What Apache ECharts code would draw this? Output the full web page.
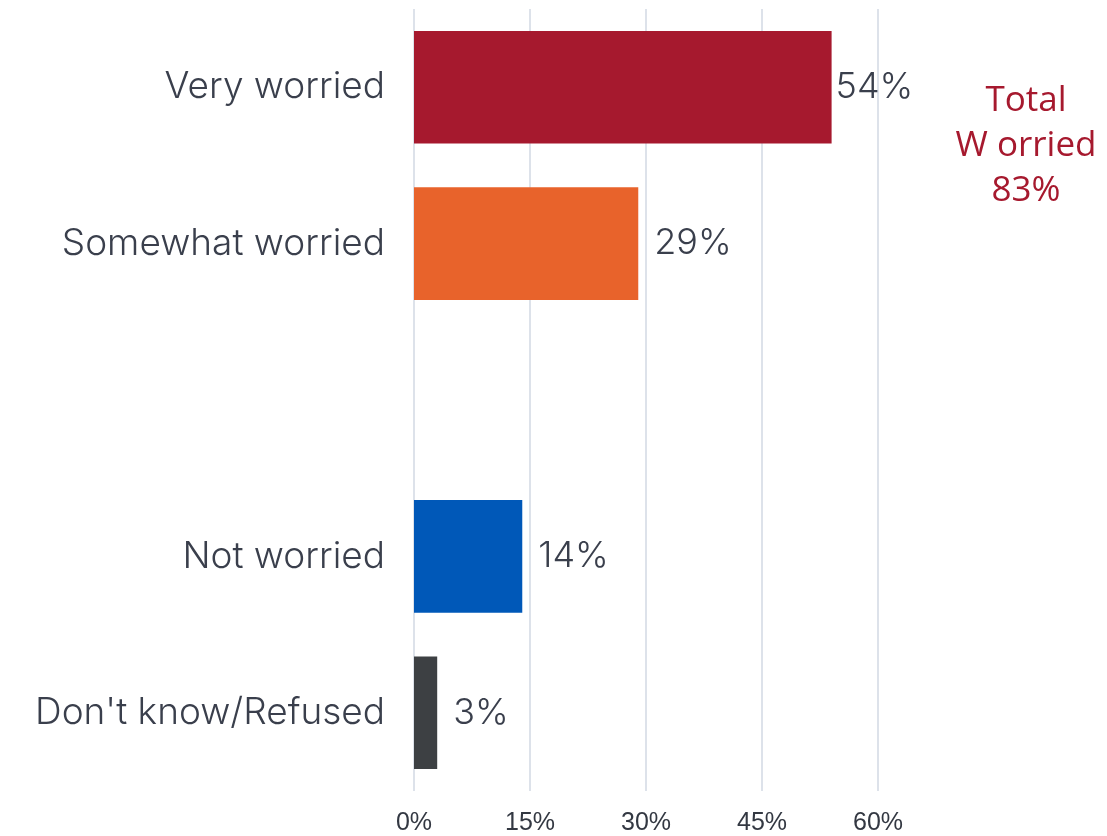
<!DOCTYPE html>
<html><head><meta charset="utf-8">
<script src="https://cdn.jsdelivr.net/npm/echarts@6/dist/echarts.min.js"></script>
<style>html,body{margin:0;padding:0;background:#fff}#c{width:1107px;height:836px}</style>
</head><body><div id="c"></div>
<script>
const categories = ["Very worried", "Somewhat worried", "", "Not worried", "Don't know/Refused"];
const values = [54, 29, null, 14, 3];
const colors = ["#a6192e", "#e8632b", "#ffffff", "#0058b8", "#3d4043"];
const labelDistances = [4, 16, 16, 16, 16];
const tickMin = 0, tickMax = 60, tickStep = 15;
const noteLines = ["Total", "W orried", "83%"];

const chart = echarts.init(document.getElementById('c'), null, {renderer: 'canvas'});
chart.setOption({
  animation: false,
  grid: {left: 414, right: 229, top: 9, bottom: 45, containLabel: false},
  xAxis: {
    type: 'value', min: tickMin, max: tickMax, interval: tickStep,
    axisLine: {show: false}, axisTick: {show: false},
    splitLine: {show: true, lineStyle: {color: '#dde2ea', width: 2}},
    axisLabel: {formatter: '{value}%', color: '#333842', fontFamily: 'Liberation Sans', fontSize: 25, margin: 20}
  },
  yAxis: {
    type: 'category', data: categories, inverse: true,
    axisLine: {show: false}, axisTick: {show: false},
    axisLabel: {color: '#3a3f4c', fontFamily: 'Inter', fontWeight: 300, fontSize: 37, margin: 29}
  },
  series: [{
    type: 'bar', barCategoryGap: '28%',
    data: values.map((v, i) => ({
      value: v == null ? '-' : v,
      itemStyle: {color: colors[i]},
      label: {distance: labelDistances[i]}
    })),
    label: {show: true, position: 'right', formatter: '{c}%', color: '#3a3f4c', fontFamily: 'Inter', fontWeight: 300, fontSize: 36}
  }],
  graphic: noteLines.map((t, i) => ({
    type: 'text', x: 1026, y: 101 + i * 45,
    style: {text: t, fill: '#a6192e', font: '35px "Open Sans"', textAlign: 'center', textVerticalAlign: 'middle', align: 'center', verticalAlign: 'middle'}
  }))
});
</script></body></html>
